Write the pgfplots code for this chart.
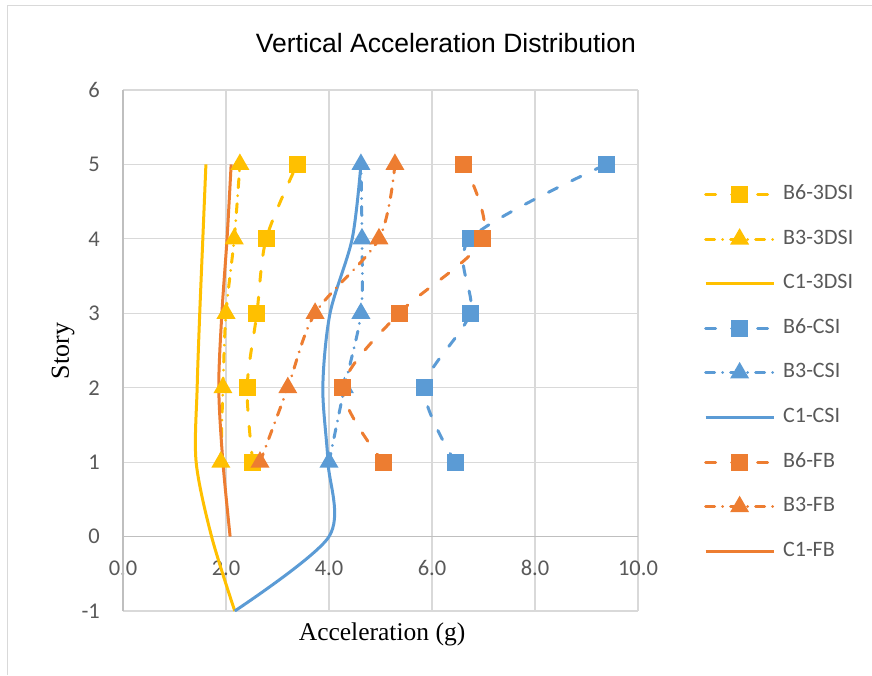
\documentclass[border=0pt]{standalone}
\usepackage{fontspec}
\setmainfont{Carlito}
\newfontfamily\serifname{Liberation Serif}
\newfontfamily\arialname{Liberation Sans}
\usepackage{pgfplots}
\pgfplotsset{compat=1.18}
\definecolor{cyel}{HTML}{FFC000}
\definecolor{cblu}{HTML}{5B9BD5}
\definecolor{cora}{HTML}{ED7D31}
\definecolor{cgrid}{HTML}{D9D9D9}
\definecolor{caxis}{HTML}{BFBFBF}
\definecolor{ctext}{HTML}{595959}
\begin{document}
\begin{tikzpicture}
\path[use as bounding box] (-123pt,-64pt) rectangle (749pt,611pt);
\draw[cgrid, line width=1pt] (-115pt,-64pt) -- (-115pt,605pt) -- (749pt,605pt);
\begin{axis}[
  at={(0pt,0pt)}, anchor=south west,
  scale only axis, width=515pt, height=521pt,
  xmin=0, xmax=10, ymin=-1, ymax=6,
  axis line style={draw=none},
  xtick={0,2,4,6,8,10}, ytick={-1,0,1,2,3,4,5,6},
  major tick length=0pt,
  grid=major,
  major grid style={draw=cgrid, line width=1.1pt},
  extra x ticks={0}, extra x tick labels={},
  extra y ticks={0}, extra y tick labels={},
  extra tick style={major grid style={draw=caxis, line width=1.3pt}, major tick length=0pt},
  /pgf/number format/assume math mode=true,
  xticklabel={\pgfmathprintnumber[fixed,fixed zerofill,precision=1]{\tick}},
  yticklabel={\pgfmathprintnumber[fixed,precision=0]{\tick}},
  xticklabel style={font=\fontsize{22.5}{26}\selectfont, text=ctext, anchor=center, inner sep=0pt, yshift=43pt},
  yticklabel style={font=\fontsize{22.5}{26}\selectfont, text=ctext, anchor=east, inner sep=0pt, xshift=-23pt},
  xlabel={Acceleration (g)},
  ylabel={Story},
  xlabel style={font=\serifname\fontsize{25.5}{30}\selectfont, at={(axis description cs:0.503,-0.044)}, anchor=center},
  ylabel style={font=\serifname\fontsize{26}{30}\selectfont, at={(axis description cs:-0.1165,0.499)}, anchor=center, rotate=0},
  title={Vertical Acceleration Distribution},
  title style={font=\arialname\fontsize{26.5}{30}\selectfont, at={(axis description cs:0.627,1.0785)}, anchor=center},
  legend style={draw=none, fill=none, inner sep=0pt, at={(axis description cs:1.128,0.457)}, anchor=west,
    font=\fontsize{22}{26}\selectfont, text=ctext, row sep=24.6pt, column sep=8pt,
    nodes={inner sep=0pt, text height=15pt, text depth=5pt}},
  legend cell align=left,
  legend image code/.code={\draw[mark repeat=2,mark phase=2] plot coordinates {(0pt,0pt) (34pt,0pt) (68pt,0pt)};},
  every axis plot/.append style={smooth, line width=3pt},
]
\addplot[cyel, dash pattern=on 10pt off 16pt, line cap=round, mark=square*, mark size=7pt, mark options={solid}] coordinates {(2.52,1) (2.41,2) (2.60,3) (2.78,4) (3.38,5)};
\addlegendentry{B6-3DSI}
\addplot[cyel, dash pattern=on 9pt off 8pt on 0.01pt off 8pt, line cap=round, mark=triangle*, mark size=8pt, mark options={solid}] coordinates {(1.90,1) (1.94,2) (2.00,3) (2.16,4) (2.27,5)};
\addlegendentry{B3-3DSI}
\addplot[cyel, solid] coordinates {(2.17,-1) (1.72,0) (1.42,1) (1.44,2) (1.49,3) (1.55,4) (1.61,5)};
\addlegendentry{C1-3DSI}
\addplot[cblu, dash pattern=on 10pt off 16pt, line cap=round, mark=square*, mark size=7pt, mark options={solid}] coordinates {(6.45,1) (5.85,2) (6.74,3) (6.74,4) (9.38,5)};
\addlegendentry{B6-CSI}
\addplot[cblu, dash pattern=on 9pt off 8pt on 0.01pt off 8pt, line cap=round, mark=triangle*, mark size=8pt, mark options={solid}] coordinates {(4.00,1) (4.30,2) (4.62,3) (4.64,4) (4.62,5)};
\addlegendentry{B3-CSI}
\addplot[cblu, solid] coordinates {(2.17,-1) (4.00,0) (3.98,1) (3.88,2) (4.02,3) (4.45,4) (4.62,5)};
\addlegendentry{C1-CSI}
\addplot[cora, dash pattern=on 10pt off 16pt, line cap=round, mark=square*, mark size=7pt, mark options={solid}] coordinates {(5.05,1) (4.27,2) (5.36,3) (6.99,4) (6.62,5)};
\addlegendentry{B6-FB}
\addplot[cora, dash pattern=on 9pt off 8pt on 0.01pt off 8pt, line cap=round, mark=triangle*, mark size=8pt, mark options={solid}] coordinates {(2.66,1) (3.20,2) (3.73,3) (4.97,4) (5.28,5)};
\addlegendentry{B3-FB}
\addplot[cora, solid] coordinates {(2.08,0) (1.94,1) (1.86,2) (1.92,3) (2.02,4) (2.10,5)};
\addlegendentry{C1-FB}
\end{axis}
\end{tikzpicture}
\end{document}
